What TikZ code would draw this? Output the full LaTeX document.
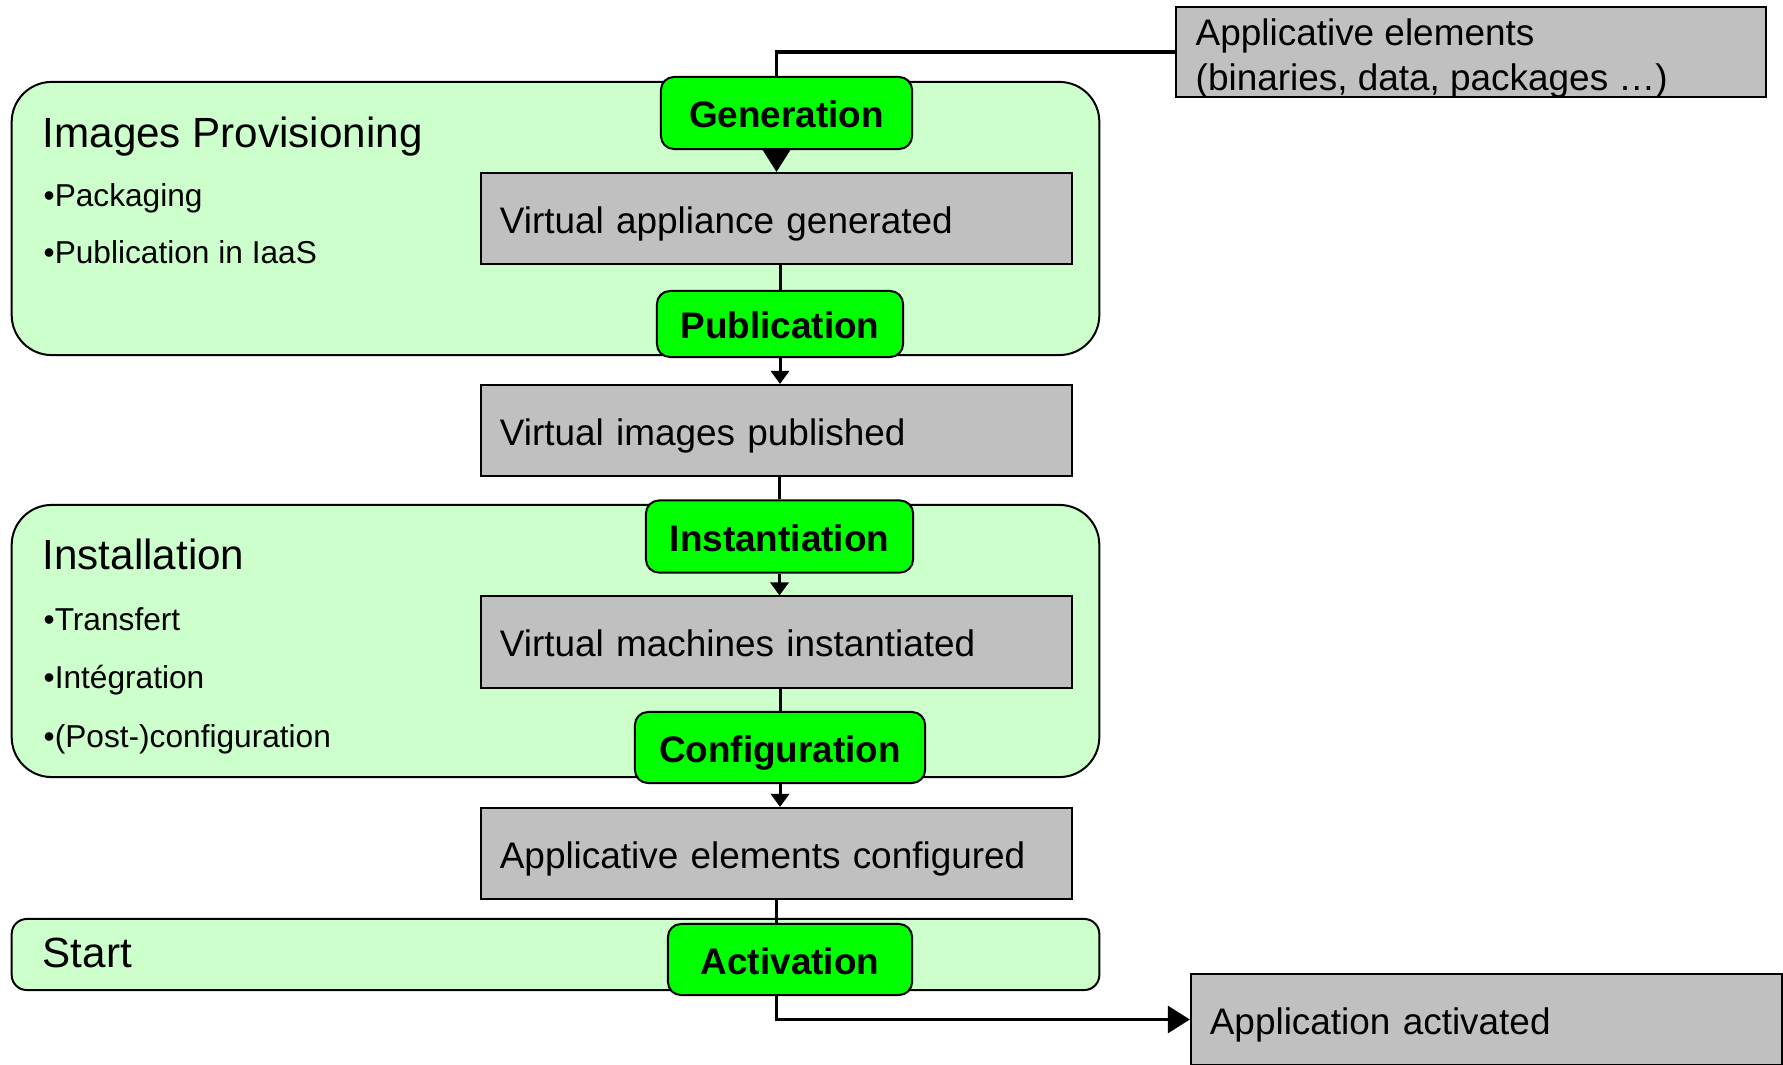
\documentclass[tikz,border=0pt]{standalone}
\usepackage{fontspec}
\setmainfont{Liberation Sans}
\usetikzlibrary{arrows.meta}
\definecolor{phasegreen}{HTML}{CCFFCC}
\definecolor{stepgreen}{HTML}{00FF00}
\definecolor{stategray}{HTML}{C0C0C0}
\tikzset{
	phase/.style={draw=black,line width=0.02cm,fill=phasegreen,rounded corners=0.4cm,minimum width=10.87cm},
	stepbox/.style={draw=black,line width=0.02cm,fill=stepgreen,rounded corners=0.13cm,inner sep=0pt,
		font=\fontsize{10.5}{12.6}\selectfont\bfseries,text height=0.29cm,text depth=0cm},
	statebox/.style={draw=black,line width=0.02cm,fill=stategray,minimum width=5.91cm,minimum height=0.91cm,
		inner xsep=0.19cm,text width=5.53cm,align=left,font=\fontsize{10.5}{12.6}\selectfont,
		text height=0.29cm,text depth=0cm},
	title/.style={anchor=base west,inner sep=0pt,font=\fontsize{12}{14}\selectfont},
	bullet/.style={anchor=base west,inner sep=0pt,font=\fontsize{9}{11}\selectfont},
	conn/.style={line width=0.03cm},
	bigtip/.style={-{Triangle[length=0.22cm,width=0.27cm]}},
	smalltip/.style={-{Triangle[length=0.13cm,width=0.18cm]}}
}
\begin{document}
\begin{tikzpicture}[x=0.01cm,y=-0.01cm]
	\useasboundingbox (0,0) rectangle (1783,1064);
	%%%%%%%%%%%%%%%%%%%
	%     phases      %
	%%%%%%%%%%%%%%%%%%%
		\def\PhaseX{555.5}
		\node [phase,minimum height=2.73cm] (prov) at (\PhaseX,218.5) {};
		\node [phase,minimum height=2.72cm] (install) at (\PhaseX,641) {};
		\node [phase,minimum height=0.71cm,rounded corners=0.15cm] (start) at (\PhaseX,954.5) {};
		% titles
			\node [title] (provtitle) at (42,148) {Images Provisioning};
			\node [title] (installtitle) at (42,569) {Installation};
			\node [title] (starttitle) at (42,967) {Start};
		% bullets
			\foreach \y/\item in {207/Packaging,264/Publication in IaaS,630/Transfert,688/Intégration,747/(Post-)configuration}
				\node [bullet] (item\y) at (43,\y) {•\item};
	%%%%%%%%%%%%%%%%%%%
	%     states      %
	%%%%%%%%%%%%%%%%%%%
		\def\StateX{776.5}
		\node [statebox] (vag) at (\StateX,218.5) {Virtual appliance generated};
		\node [statebox] (vip) at (\StateX,430.5) {Virtual images published};
		\node [statebox] (vmi) at (\StateX,642) {Virtual machines instantiated};
		\node [statebox] (aec) at (\StateX,853.5) {Applicative elements configured};
		\node [statebox,minimum width=5.89cm] (appact) at (1486.5,1019.5) {Application activated};
		% input box
			\node [draw=black,line width=0.02cm,fill=stategray,minimum width=5.9cm,minimum height=0.9cm] (appl) at (1471,52) {};
			\node [anchor=north west,inner sep=0pt,align=left,font=\fontsize{10.5}{12.8}\selectfont] (appltext) at (1195,18)
				{Applicative elements\\(binaries, data, packages \dots)};
	%%%%%%%%%%%%%%%%%%%
	%      steps      %
	%%%%%%%%%%%%%%%%%%%
		\node [stepbox,minimum width=2.51cm,minimum height=0.72cm] (gen) at (786.5,113) {Generation};
		\node [stepbox,minimum width=2.46cm,minimum height=0.66cm] (pub) at (780,324) {Publication};
		\node [stepbox,minimum width=2.67cm,minimum height=0.72cm] (inst) at (779.5,536.5) {Instantiation};
		\node [stepbox,minimum width=2.90cm,minimum height=0.71cm] (conf) at (780,747.5) {Configuration};
		\node [stepbox,minimum width=2.44cm,minimum height=0.71cm] (act) at (790,959.5) {Activation};
	%%%%%%%%%%%%%%%%%%%
	%   connectors    %
	%%%%%%%%%%%%%%%%%%%
		\draw [conn,line width=0.035cm] (appl.west) -| (vag.north |- gen.north);
		\draw [conn,bigtip] (vag.north |- gen.south) -- (vag.north);
		\draw [conn] (vag.south -| pub.north) -- (pub.north);
		\draw [conn,smalltip] (pub.south) -- (pub.south |- vip.north);
		\draw [conn] (vip.south -| inst.north) -- (inst.north);
		\draw [conn,smalltip] (inst.south) -- (inst.south |- vmi.north);
		\draw [conn] (vmi.south -| conf.north) -- (conf.north);
		\draw [conn,smalltip] (conf.south) -- (conf.south |- aec.north);
		\draw [conn] (aec.south) -- (aec.south |- act.north);
		\draw [conn,bigtip] (aec.south |- act.south) |- (appact.west);
\end{tikzpicture}
\end{document}
